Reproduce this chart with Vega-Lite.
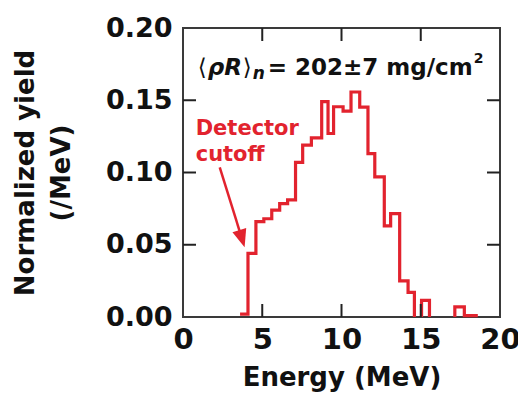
{
  "$schema": "https://vega.github.io/schema/vega-lite/v6.json",
  "width": 317,
  "height": 289,
  "autosize": {"type": "none"},
  "padding": {"left": 183, "top": 28, "right": 18, "bottom": 79},
  "background": "white",
  "datasets": {
    "hist": [
      {"i": 1, "seg": 1, "e": 3.6, "v": 0.002},
      {"i": 2, "seg": 1, "e": 4.1, "v": 0.044},
      {"i": 3, "seg": 1, "e": 4.6, "v": 0.066},
      {"i": 4, "seg": 1, "e": 5.1, "v": 0.068},
      {"i": 5, "seg": 1, "e": 5.6, "v": 0.074},
      {"i": 6, "seg": 1, "e": 6.1, "v": 0.0785},
      {"i": 7, "seg": 1, "e": 6.6, "v": 0.081},
      {"i": 8, "seg": 1, "e": 7.1, "v": 0.107},
      {"i": 9, "seg": 1, "e": 7.55, "v": 0.119},
      {"i": 10, "seg": 1, "e": 8.1, "v": 0.124},
      {"i": 11, "seg": 1, "e": 8.75, "v": 0.149},
      {"i": 12, "seg": 1, "e": 9.15, "v": 0.127},
      {"i": 13, "seg": 1, "e": 9.5, "v": 0.1455},
      {"i": 14, "seg": 1, "e": 10.1, "v": 0.1425},
      {"i": 15, "seg": 1, "e": 10.6, "v": 0.1557},
      {"i": 16, "seg": 1, "e": 11.15, "v": 0.1453},
      {"i": 17, "seg": 1, "e": 11.67, "v": 0.113},
      {"i": 18, "seg": 1, "e": 12.1, "v": 0.097},
      {"i": 19, "seg": 1, "e": 12.7, "v": 0.063},
      {"i": 20, "seg": 1, "e": 13.1, "v": 0.0715},
      {"i": 21, "seg": 1, "e": 13.67, "v": 0.025},
      {"i": 22, "seg": 1, "e": 14.2, "v": 0.017},
      {"i": 23, "seg": 1, "e": 14.6, "v": 0},
      {"i": 24, "seg": 2, "e": 15.05, "v": 0},
      {"i": 25, "seg": 2, "e": 15.05, "v": 0.0115},
      {"i": 26, "seg": 2, "e": 15.55, "v": 0},
      {"i": 27, "seg": 3, "e": 17.15, "v": 0},
      {"i": 28, "seg": 3, "e": 17.15, "v": 0.007},
      {"i": 29, "seg": 3, "e": 17.75, "v": 0.001},
      {"i": 30, "seg": 3, "e": 18.6, "v": 0.001}
    ],
    "rules": [
      {"kind": "arrow", "x": 2.32, "y": 0.1036, "x2": 3.72, "y2": 0.0542},
      {"kind": "tick", "x": 5, "x2": 5, "y": 0, "y2": 0.009},
      {"kind": "tick", "x": 10, "x2": 10, "y": 0, "y2": 0.009},
      {"kind": "tick", "x": 15, "x2": 15, "y": 0, "y2": 0.009},
      {"kind": "tick", "x": 5, "x2": 5, "y": 0.191, "y2": 0.2},
      {"kind": "tick", "x": 10, "x2": 10, "y": 0.191, "y2": 0.2},
      {"kind": "tick", "x": 15, "x2": 15, "y": 0.191, "y2": 0.2},
      {"kind": "tick", "x": 0, "x2": 0.82, "y": 0.05, "y2": 0.05},
      {"kind": "tick", "x": 0, "x2": 0.82, "y": 0.1, "y2": 0.1},
      {"kind": "tick", "x": 0, "x2": 0.82, "y": 0.15, "y2": 0.15},
      {"kind": "tick", "x": 19.18, "x2": 20, "y": 0.05, "y2": 0.05},
      {"kind": "tick", "x": 19.18, "x2": 20, "y": 0.1, "y2": 0.1},
      {"kind": "tick", "x": 19.18, "x2": 20, "y": 0.15, "y2": 0.15}
    ],
    "arrowhead": [
      {"x": 3.72, "y": 0.0542}
    ],
    "label": [
      {"x": 0.8, "y": 0.1257, "t": "Detector"},
      {"x": 0.8, "y": 0.1078, "t": "cutoff"}
    ],
    "anno_plain": [
      {"x": 0.93, "y": 0.1673, "t": "⟨"},
      {"x": 3.77, "y": 0.1673, "t": "⟩"}
    ],
    "anno_ital": [
      {"x": 1.56, "y": 0.1673, "t": "ρR"}
    ],
    "anno_sub": [
      {"x": 4.4, "y": 0.1645, "t": "n"}
    ],
    "anno_main": [
      {"x": 5.34, "y": 0.1673, "t": "= 202±7 mg/cm"}
    ],
    "anno_sup": [
      {"x": 18.34, "y": 0.1755, "t": "2"}
    ]
  },
  "layer": [
    {
      "data": {"name": "hist"},
      "mark": {"type": "line", "interpolate": "step-after", "color": "#e2232e", "strokeWidth": 3.2, "strokeJoin": "miter"},
      "encoding": {
        "x": {
          "field": "e", "type": "quantitative",
          "scale": {"domain": [0, 20], "nice": false, "zero": false},
          "axis": {
            "orient": "bottom",
            "values": [0, 5, 10, 15, 20],
            "format": "d",
            "ticks": false,
            "labelFontSize": 29,
            "labelPadding": 8,
            "labelFlush": false,
            "title": "Energy (MeV)",
            "titleFontSize": 26,
            "titleX": 158.5,
            "titleY": 68,
            "titleAlign": "center",
            "titleBaseline": "alphabetic"
          }
        },
        "y": {
          "field": "v", "type": "quantitative",
          "scale": {"domain": [0, 0.2], "nice": false, "zero": false},
          "axis": {
            "orient": "left",
            "values": [0, 0.05, 0.1, 0.15, 0.2],
            "format": ".2f",
            "ticks": false,
            "labelFontSize": 27,
            "labelPadding": 11,
            "labelFlush": false,
            "title": ["Normalized yield", "(/MeV)"],
            "titleFontSize": 26,
            "titleLineHeight": 36,
            "titleAngle": 270,
            "titleX": -171,
            "titleY": 144.5,
            "titleAlign": "center",
            "titleBaseline": "top"
          }
        },
        "detail": {"field": "seg", "type": "nominal"},
        "order": {"field": "i", "type": "quantitative"}
      }
    },
    {
      "data": {"name": "rules"},
      "mark": {"type": "rule"},
      "encoding": {
        "x": {"field": "x", "type": "quantitative"},
        "y": {"field": "y", "type": "quantitative"},
        "x2": {"field": "x2"},
        "y2": {"field": "y2"},
        "color": {"field": "kind", "type": "nominal", "scale": {"domain": ["tick", "arrow"], "range": ["#222222", "#e2232e"]}, "legend": null},
        "strokeWidth": {"field": "kind", "type": "nominal", "scale": {"domain": ["tick", "arrow"], "range": [2, 2.5]}, "legend": null}
      }
    },
    {
      "data": {"name": "arrowhead"},
      "mark": {"type": "point", "shape": "M -0.8 -1 L 0.8 -1 L 0 1 Z", "filled": true, "color": "#e2232e", "opacity": 1, "size": 324, "angle": 343},
      "encoding": {
        "x": {"field": "x", "type": "quantitative"},
        "y": {"field": "y", "type": "quantitative"}
      }
    },
    {
      "data": {"name": "label"},
      "mark": {"type": "text", "align": "left", "baseline": "alphabetic", "font": "DejaVu Sans", "fontWeight": "bold", "fontSize": 21, "color": "#e2232e"},
      "encoding": {
        "x": {"field": "x", "type": "quantitative"},
        "y": {"field": "y", "type": "quantitative"},
        "text": {"field": "t"}
      }
    },
    {
      "data": {"name": "anno_plain"},
      "mark": {"type": "text", "align": "left", "baseline": "alphabetic", "font": "DejaVu Sans", "fontWeight": "normal", "fontSize": 23, "color": "#111"},
      "encoding": {
        "x": {"field": "x", "type": "quantitative"},
        "y": {"field": "y", "type": "quantitative"},
        "text": {"field": "t"}
      }
    },
    {
      "data": {"name": "anno_ital"},
      "mark": {"type": "text", "align": "left", "baseline": "alphabetic", "font": "DejaVu Sans", "fontWeight": "bold", "fontStyle": "italic", "fontSize": 23, "color": "#111"},
      "encoding": {
        "x": {"field": "x", "type": "quantitative"},
        "y": {"field": "y", "type": "quantitative"},
        "text": {"field": "t"}
      }
    },
    {
      "data": {"name": "anno_sub"},
      "mark": {"type": "text", "align": "left", "baseline": "alphabetic", "font": "DejaVu Sans", "fontWeight": "bold", "fontStyle": "italic", "fontSize": 17, "color": "#111"},
      "encoding": {
        "x": {"field": "x", "type": "quantitative"},
        "y": {"field": "y", "type": "quantitative"},
        "text": {"field": "t"}
      }
    },
    {
      "data": {"name": "anno_main"},
      "mark": {"type": "text", "align": "left", "baseline": "alphabetic", "font": "DejaVu Sans", "fontWeight": "bold", "fontSize": 23, "color": "#111"},
      "encoding": {
        "x": {"field": "x", "type": "quantitative"},
        "y": {"field": "y", "type": "quantitative"},
        "text": {"field": "t"}
      }
    },
    {
      "data": {"name": "anno_sup"},
      "mark": {"type": "text", "align": "left", "baseline": "alphabetic", "font": "DejaVu Sans", "fontWeight": "bold", "fontSize": 14, "color": "#111"},
      "encoding": {
        "x": {"field": "x", "type": "quantitative"},
        "y": {"field": "y", "type": "quantitative"},
        "text": {"field": "t"}
      }
    }
  ],
  "config": {
    "font": "DejaVu Sans",
    "view": {"stroke": "#3a3a3a", "strokeWidth": 2},
    "axis": {
      "grid": false,
      "domain": false,
      "labelFont": "DejaVu Sans",
      "labelFontWeight": "bold",
      "labelColor": "#111",
      "titleFont": "DejaVu Sans",
      "titleFontWeight": "bold",
      "titleColor": "#111"
    }
  }
}
